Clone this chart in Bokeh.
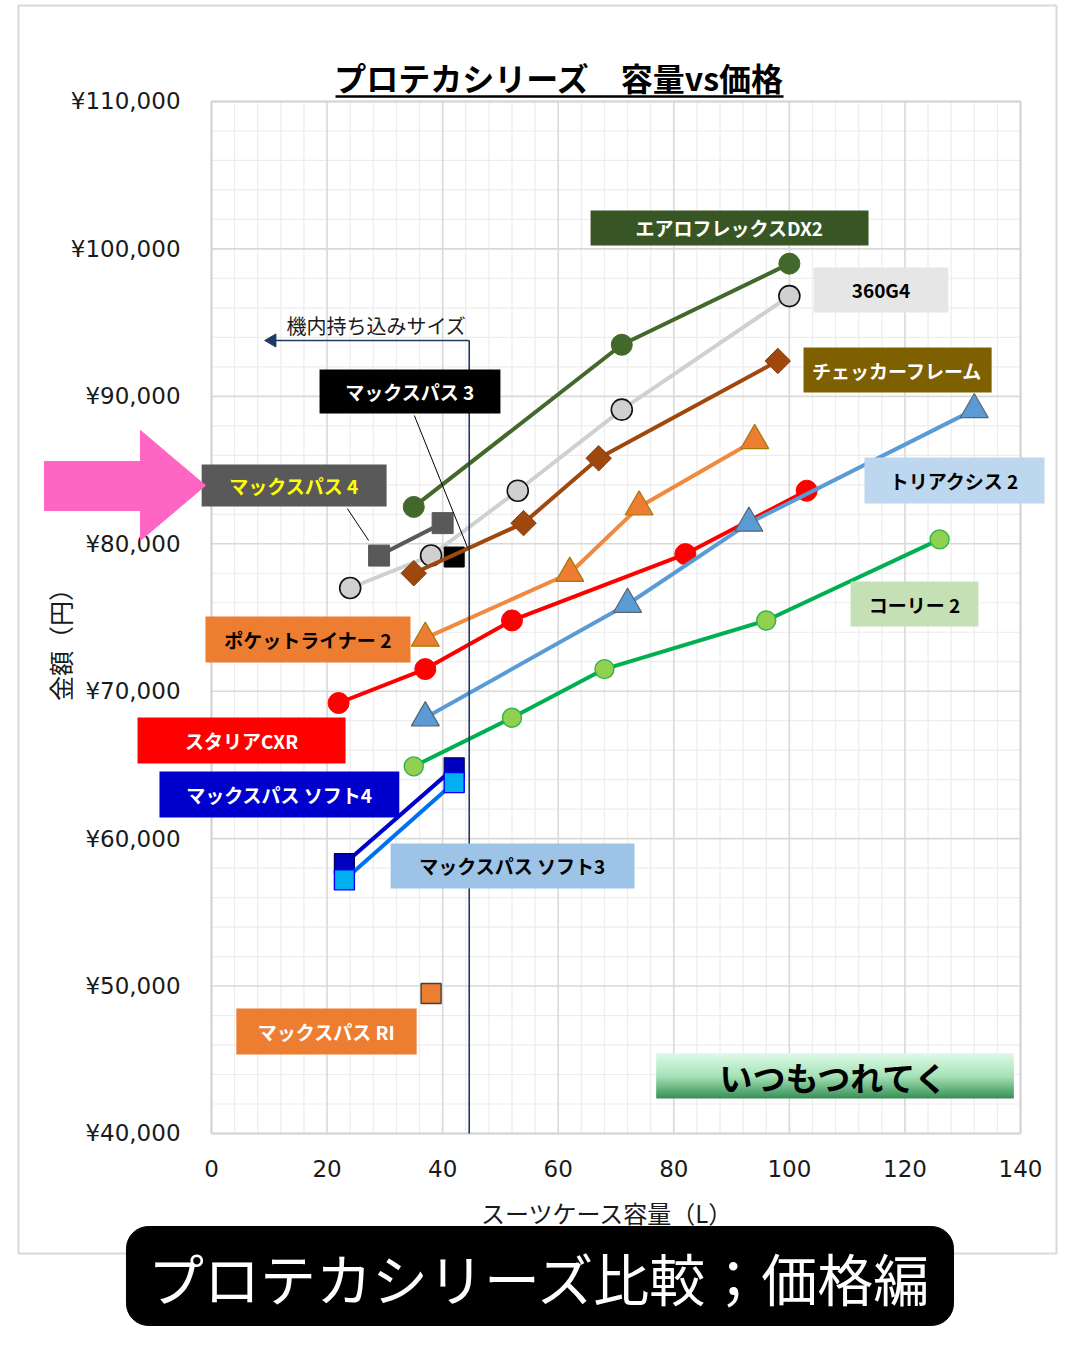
import numpy as np
from bokeh.plotting import figure
from bokeh.models import Range1d
from bokeh.core.properties import value
from bokeh.embed import file_html
from bokeh.resources import INLINE

# ---------------- data ----------------
x_ticks = [0, 20, 40, 60, 80, 100, 120, 140]
x_tick_labels = ["0", "20", "40", "60", "80", "100", "120", "140"]
y_ticks = [40000, 50000, 60000, 70000, 80000, 90000, 100000, 110000]
y_tick_labels = ["¥40,000", "¥50,000", "¥60,000", "¥70,000",
                 "¥80,000", "¥90,000", "¥100,000", "¥110,000"]

aeroflex_x = [35, 71, 100]
aeroflex_y = [82500, 93500, 99000]
g360_x = [24, 38, 53, 71, 100]
g360_y = [77000, 79200, 83600, 89100, 96800]
checker_x = [35, 54, 67, 98]
checker_y = [78000, 81400, 85800, 92400]
pocket_x = [37, 62, 74, 94]
pocket_y = [73600, 78000, 82500, 87000]
stalia_x = [22, 37, 52, 82, 103]
stalia_y = [69200, 71500, 74800, 79300, 83600]
triaxis_x = [37, 72, 93, 132]
triaxis_y = [68200, 75900, 81400, 89100]
corey_x = [35, 52, 68, 96, 126]
corey_y = [64900, 68200, 71500, 74800, 80300]
maxpass4_x = [29, 40]
maxpass4_y = [79200, 81400]
maxpass3_x = [42]
maxpass3_y = [79100]
soft4_x = [23, 42]
soft4_y = [58300, 64800]
soft3_x = [23, 42]
soft3_y = [57200, 63800]
ri_x = [38]
ri_y = [49500]

carry_on_limit_x = 44.6

# ---------------- figure ----------------
JP = value("Noto Sans CJK JP")
NUM = value("DejaVu Sans")

p = figure(width=1064, height=1334,
           x_range=Range1d(-36.51, 147.61), y_range=Range1d(26366, 116850),
           x_axis_type=None, y_axis_type=None,
           output_backend="svg", toolbar_location=None, min_border=0)
p.outline_line_color = None
p.background_fill_color = "white"
p.border_fill_color = "white"
p.xgrid.visible = False
p.ygrid.visible = False

# outer frame
p.quad(left=[-33.4], right=[146.23], bottom=[31861], top=[116511],
       fill_color=None, line_color="#d9d9d9", line_width=2)

# grid
X_MIN, X_MAX, Y_MIN, Y_MAX = 0, 140, 40000, 110000
minor_x = [v for v in range(X_MIN, X_MAX + 1, 4) if v % 20 != 0]
minor_y = [v for v in range(Y_MIN, Y_MAX + 1, 2000) if v % 10000 != 0]
p.segment(x0=minor_x, y0=Y_MIN, x1=minor_x, y1=Y_MAX, line_color="#ededed", line_width=1.2)
p.segment(x0=X_MIN, y0=minor_y, x1=X_MAX, y1=minor_y, line_color="#ededed", line_width=1.2)
p.segment(x0=x_ticks, y0=Y_MIN, x1=x_ticks, y1=Y_MAX, line_color="#d9d9d9", line_width=1.6)
p.segment(x0=X_MIN, y0=y_ticks, x1=X_MAX, y1=y_ticks, line_color="#d9d9d9", line_width=1.6)
p.quad(left=[X_MIN], right=[X_MAX], bottom=[Y_MIN], top=[Y_MAX],
       fill_color=None, line_color="#d4d4d4", line_width=2)

# tick labels
p.text(x=[-5.36] * len(y_ticks), y=y_ticks, text=y_tick_labels, text_align="right",
       text_baseline="middle", text_font=NUM, text_font_size=value("23px"), text_color="#1a1a1a")
p.text(x=x_ticks, y=[37626] * len(x_ticks), text=x_tick_labels, text_align="center",
       text_baseline="middle", text_font=NUM, text_font_size=value("23px"), text_color="#1a1a1a")

# axis titles
p.text(x=[68.53], y=[34641], text=["スーツケース容量（L）"], text_align="center",
       text_baseline="middle", text_font=JP, text_font_size=value("24px"), text_color="#1a1a1a")
p.text(x=[-26.13], y=[73575], text=["金額（円）"], angle=np.pi / 2, text_align="center",
       text_baseline="middle", text_font=JP, text_font_size=value("25px"), text_color="#1a1a1a")

# series
LW = 4
def series(x, y, line, marker, size, fill, outline, olw=1.0, angle=0.0):
    p.line(x, y, line_color=line, line_width=LW)
    p.scatter(x, y, marker=marker, size=size, fill_color=fill, line_color=outline,
              line_width=olw, angle=angle)

series(g360_x, g360_y, "#d0d0d0", "circle", 21, "#d0d0d0", "#111111", 1.6)
series(maxpass4_x, maxpass4_y, "#595959", "square", 21, "#595959", "#595959")
series(maxpass3_x, maxpass3_y, "#000000", "square", 20, "#000000", "#000000")
series(checker_x, checker_y, "#9e480e", "square", 18, "#9e480e", "#8a3e0c", 1.0, np.pi / 4)
series(aeroflex_x, aeroflex_y, "#43682b", "circle", 21, "#43682b", "#43682b")
series(pocket_x, pocket_y, "#f08a3e", "triangle", 28, "#ed7d31", "#a5780a", 1.2)
series(stalia_x, stalia_y, "#ff0000", "circle", 21, "#ff0000", "#ff0000")
series(triaxis_x, triaxis_y, "#5b9bd5", "triangle", 28, "#5b9bd5", "#5a6470", 1.2)
series(corey_x, corey_y, "#00b050", "circle", 19, "#92d050", "#2fb34a", 1.4)
series(soft4_x, soft4_y, "#0000cc", "square", 20, "#0000c0", "#000060", 1.2)
series(soft3_x, soft3_y, "#0070f0", "square", 20, "#00b0f0", "#0000ff", 1.4)
series(ri_x, ri_y, "#ed7d31", "square", 20, "#ed7d31", "#404040", 1.4)

# carry-on size limit line with arrow
p.segment(x0=[carry_on_limit_x], y0=[Y_MIN], x1=[carry_on_limit_x], y1=[93790],
          line_color="#203864", line_width=1.6)
p.segment(x0=[carry_on_limit_x], y0=[93790], x1=[10.5], y1=[93790],
          line_color="#203864", line_width=1.6)
p.scatter(x=[10.5], y=[93790], marker="triangle", size=13, angle=np.pi / 2,
          fill_color="#203864", line_color="#203864")
p.text(x=[28.55], y=[94806], text=["機内持ち込みサイズ"], text_align="center",
       text_baseline="middle", text_font=JP, text_font_size=value("20px"), text_color="#1a1a1a")

# label boxes
labels = [
    ("エアロフレックスDX2", 65.6, 113.7, 100230, 102610, "#375623", "#ffffff"),
    ("360G4", 104.2, 127.5, 95690, 98740, "#e7e6e6", "#000000"),
    ("チェッカーフレーム", 102.45, 135.0, 90260, 93310, "#7f6000", "#ffffff"),
    ("マックスパス 3", 18.7, 50.0, 88840, 91820, "#000000", "#ffffff"),
    ("マックスパス 4", -1.7, 30.3, 82530, 85380, "#595959", "#ffff00"),
    ("トリアクシス 2", 113.0, 144.15, 82730, 85850, "#bdd7ee", "#000000"),
    ("コーリー 2", 110.6, 132.7, 74390, 77440, "#c5e0b4", "#000000"),
    ("ポケットライナー 2", -1.04, 34.44, 71950, 75070, "#ed7d31", "#000000"),
    ("スタリアCXR", -12.8, 23.2, 65100, 68220, "#ff0000", "#ffffff"),
    ("マックスパス ソフト4", -9.0, 32.5, 61430, 64550, "#0000cc", "#ffffff"),
    ("マックスパス ソフト3", 31.0, 73.2, 56620, 59670, "#9dc3e6", "#000000"),
    ("マックスパス RI", 4.3, 35.5, 45360, 48480, "#ed7d31", "#ffffff"),
]
for txt, l, r, b, t, fill, tc in labels:
    p.quad(left=[l], right=[r], bottom=[b], top=[t], fill_color=fill, line_color=None)
    p.text(x=[(l + r) / 2], y=[(b + t) / 2], text=[txt], text_align="center",
           text_baseline="middle", text_font=JP, text_font_style="bold",
           text_font_size=value("19px"), text_color=tc)

# leader lines
p.segment(x0=[23.5, 35.1], y0=[82390, 88700], x1=[27.2, 44.3], y1=[80220, 79750],
          line_color="#000000", line_width=1)

# gradient box "いつもつれてく"
gb, gt, gl, gr = 42374, 45426, 77.0, 138.8
n = 60
stops = [(0.0, (0x37, 0x8f, 0x55)), (0.5, (0xa6, 0xe2, 0xb8)), (1.0, (0xdc, 0xfa, 0xe6))]
def col(f):
    for (f0, c0), (f1, c1) in zip(stops[:-1], stops[1:]):
        if f <= f1:
            u = (f - f0) / (f1 - f0)
            return "#%02x%02x%02x" % tuple(int(round(a + (b_ - a) * u)) for a, b_ in zip(c0, c1))
    return "#dcfae6"
edges = np.linspace(gb, gt, n + 1)
tops = np.minimum(edges[1:] + 60, gt)
p.quad(left=gl, right=gr, bottom=edges[:-1], top=tops,
       fill_color=[col((i + 0.5) / n) for i in range(n)], line_color=None)
p.text(x=[(gl + gr) / 2], y=[43800], text=["いつもつれてく"], text_align="center",
       text_baseline="middle", text_font=JP, text_font_style="bold",
       text_font_size=value("33px"), text_color="#000000")

# pink arrow
p.patch(x=[-28.9, -12.29, -12.29, -1.04, -12.29, -12.29, -28.9],
        y=[85581, 85581, 87684, 83953, 80223, 82257, 82257],
        fill_color="#ff66c4", line_color="#ff66c4", line_width=1)

# chart title with underline
p.text(x=[60.22], y=[111628], text=["プロテカシリーズ　容量vs価格"], text_align="center",
       text_baseline="middle", text_font=JP, text_font_style="bold",
       text_font_size=value("32px"), text_color="#000000")
p.segment(x0=[21.46], y0=[110339], x1=[98.99], y1=[110339], line_color="#000000", line_width=2.5)

# bottom banner
p.quad(left=[-14.71], right=[128.4], bottom=[26977], top=[33692],
       fill_color="#000000", line_color="#000000", border_radius=22)
p.text(x=[56.85], y=[30300], text=["プロテカシリーズ比較；価格編"], text_align="center",
       text_baseline="middle", text_font=JP, text_font_size=value("56px"), text_color="#ffffff")

open("out.html", "w").write(file_html(p, INLINE))
